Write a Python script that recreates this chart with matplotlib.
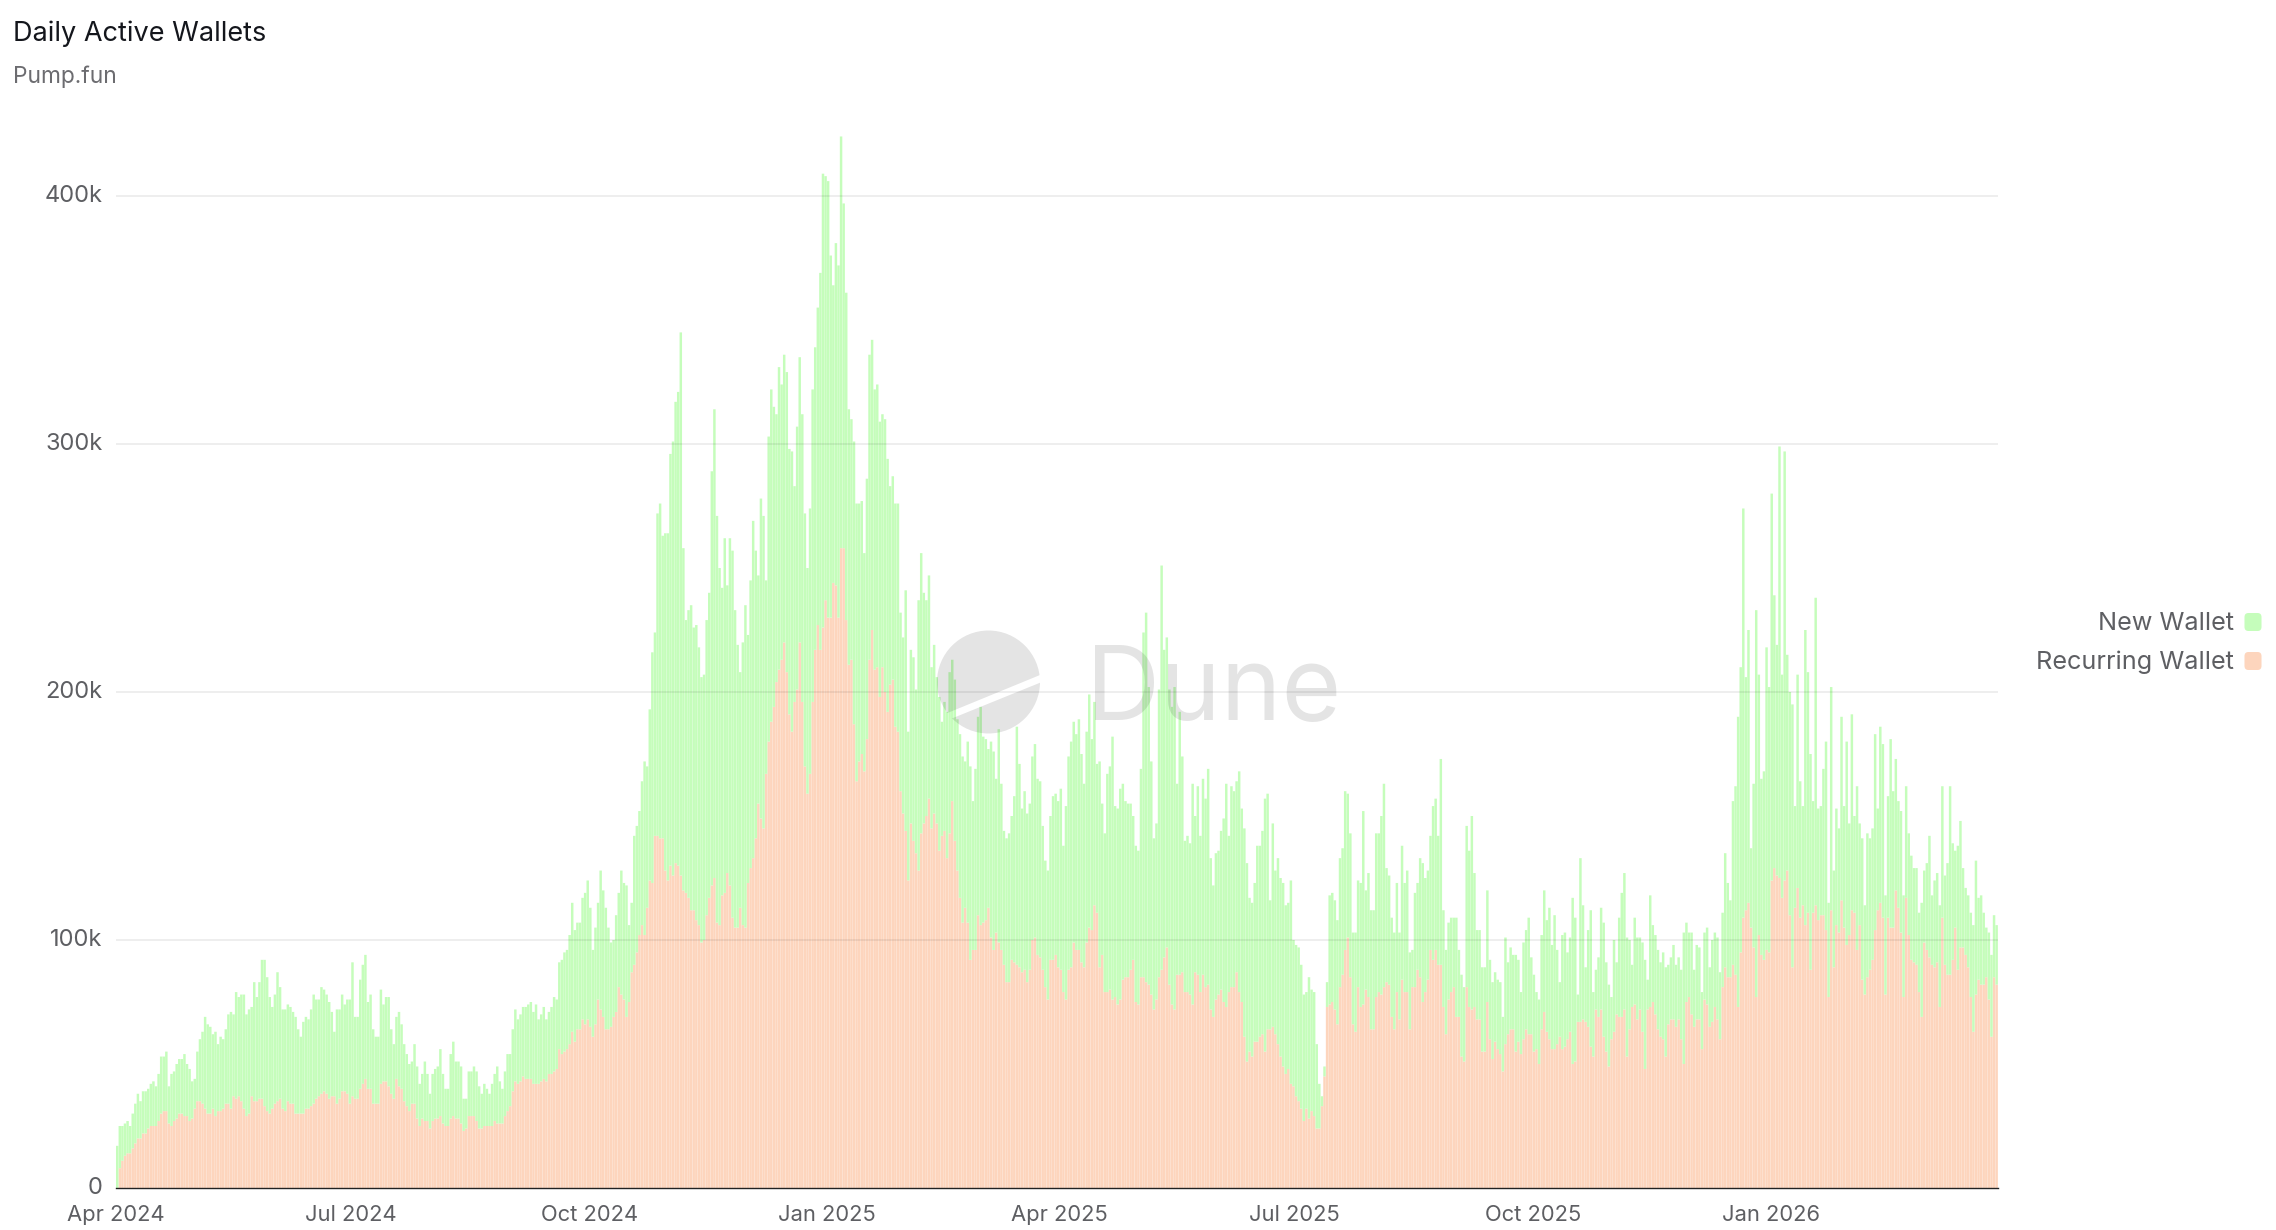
"""
Daily Active Wallets on Pump.fun, stacked daily bars (thousands of wallets).
"""
import numpy as np
import pandas as pd
import matplotlib
matplotlib.use("Agg")
import matplotlib.pyplot as plt
from matplotlib.patches import Circle, FancyBboxPatch, Polygon
from matplotlib.transforms import ScaledTranslation

plt.rcParams['font.family'] = ['Inter', 'DejaVu Sans']

start_date = "2024-04-01"
tick_dates = ["2024-04-01", "2024-07-01", "2024-10-01", "2025-01-01",
              "2025-04-01", "2025-07-01", "2025-10-01", "2026-01-01"]
tick_labels = ["Apr 2024", "Jul 2024", "Oct 2024", "Jan 2025",
               "Apr 2025", "Jul 2025", "Oct 2025", "Jan 2026"]
y_ticks = [0, 100, 200, 300, 400]
y_labels = ["0", "100k", "200k", "300k", "400k"]
series_names = ["New Wallet", "Recurring Wallet"]

# Top of each stacked bar, in thousands
total_2024a = [
    17, 25, 25, 26, 27, 25, 30, 34, 38, 35,
    39, 39, 40, 42, 43, 41, 46, 53, 53, 55,
    41, 46, 47, 50, 52, 52, 54, 50, 48, 43,
    44, 55, 60, 63, 69, 66, 65, 62, 63, 58, 61,
    60, 64, 70, 71, 70, 79, 77, 78, 78, 70,
    72, 73, 83, 77, 83, 92, 92, 85, 77, 73,
    78, 87, 81, 72, 72, 74, 73, 71, 69, 64,
    61, 67, 69, 68, 72, 78, 76, 76, 81, 80, 78,
    75, 71, 63, 72, 72, 78, 74, 76, 76, 91,
    69, 69, 84, 90, 94, 75, 78, 64, 61, 61,
    80, 74, 77, 77, 64, 58, 69, 71, 66, 58, 54,
    50, 51, 58, 49, 42, 46, 51, 46, 38, 46,
    48, 49, 56, 46, 40, 40, 54, 59, 51, 51,
    49, 36, 36, 47, 47, 49, 47, 41, 38, 42, 40,
    38, 42, 46, 49, 43, 40, 47, 54, 54, 64,
    72, 68, 70, 73, 73, 74, 75, 71, 74, 68, 70,
    73, 68, 71, 73, 77, 76, 91, 92, 95, 96,
    102, 115, 104, 107]
total_2024b = [
    107, 117, 119, 124, 113, 96, 105, 115, 128, 120,
    113, 105, 99, 100, 110, 119, 128, 123, 122, 106,
    115, 142, 146, 152, 164, 172, 170, 193, 216, 224,
    272, 276, 263, 264, 264, 296, 301, 317, 321, 345,
    258, 229, 233, 235, 226, 227, 218, 206, 207, 229,
    240, 289, 314, 271, 250, 242, 262, 243, 262, 257,
    233, 219, 208, 220, 235, 223, 245, 269, 257, 247,
    278, 271, 245, 303, 322, 315, 312, 331, 324, 336,
    329, 298, 297, 283, 307, 335, 312, 272, 250, 274,
    322, 339, 355]
total_2025a = [
    369, 409, 408, 406, 376, 364, 381, 372, 424, 397,
    361, 314, 310, 301, 276, 276, 277, 256, 286, 336,
    342, 322, 324, 309, 312, 310, 294, 283, 287, 276,
    276, 232, 222, 241, 184, 217, 214, 201, 237, 256, 240,
    237, 247, 210, 219, 206, 198, 188, 196, 192, 208,
    213, 205, 189, 183, 174, 172, 180, 170, 156, 169,
    190, 194, 182, 181, 177, 180, 176, 165, 185, 163,
    144, 141, 143, 150, 158, 186, 171, 153, 160, 151, 155,
    174, 179, 165, 164, 146, 132, 128, 150, 158, 159,
    156, 161, 138, 154, 174, 180, 188, 183, 189, 175,
    163, 184, 199, 181, 196, 171, 172, 155, 143, 167, 170,
    182, 154, 153, 161, 163, 156, 155, 155, 150, 138,
    136, 169, 224, 232, 202, 172, 141, 147, 201, 251,
    217, 222, 201, 194, 202, 163, 192, 174, 140, 142,
    139, 163, 150]
total_2025b = [
    162, 142, 165, 157, 169, 133, 122, 135, 136, 144,
    149, 163, 142, 162, 160, 164, 168, 153, 145, 131,
    117, 115, 123, 138, 138, 144, 157, 159, 116, 147, 128,
    133, 125, 123, 114, 115, 124, 100, 98, 97, 90,
    78, 79, 85, 80, 79, 58, 42, 37, 49, 83,
    118, 119, 116, 108, 133, 137, 160, 159, 143, 103,
    103, 124, 123, 152, 120, 127, 112, 112, 143, 143, 150,
    163, 129, 126, 109, 103, 123, 103, 138, 123, 128,
    95, 96, 119, 123, 133, 131, 125, 128, 142, 154,
    157, 142, 173, 112, 96, 107, 109, 109, 109, 96,
    86, 81, 146, 136, 150, 127, 104]
total_2025c = [
    104, 89, 89, 120, 92, 83, 87, 84, 83, 69,
    101, 91, 97, 94, 94, 92, 79, 99, 104, 109,
    93, 86, 79, 76, 102, 120, 108, 113, 98, 110, 96,
    83, 102, 103, 95, 101, 117, 109, 78, 133, 114,
    89, 104, 112, 79, 88, 93, 113, 107, 91, 82,
    77, 100, 91, 109, 119, 127, 101, 100, 90, 109,
    101, 101, 99, 92, 84, 118, 106, 102, 96, 91, 95,
    89, 90, 93, 98, 90, 93, 88, 103, 107, 103,
    103, 88, 98, 97, 79, 103, 105, 89, 100, 103,
    101, 87, 111, 135, 123, 116, 156, 162, 190]
total_2026 = [
    210, 274, 206, 225, 137, 163, 233, 207, 165, 168,
    218, 202, 280, 239, 219, 299, 207, 297, 215, 200,
    195, 154, 207, 164, 154, 225, 208, 175, 156, 238,
    153, 154, 169, 180, 115, 202, 128, 153, 145, 190,
    154, 180, 147, 191, 150, 162, 147, 141, 114, 143, 141,
    145, 183, 153, 186, 179, 118, 158, 181, 160, 173,
    156, 152, 118, 162, 143, 134, 129, 129, 111, 115,
    128, 131, 142, 118, 124, 127, 114, 162, 126, 131,
    162, 139, 136, 138, 148, 129, 121, 118, 111, 106,
    132, 117, 118, 111, 105, 103, 94, 110, 106]

# Height of the recurring part, same days as above, in thousands
recurring_2024a = [
    0, 8, 11, 13, 14, 14, 16, 18, 20, 20,
    22, 22, 24, 25, 25, 25, 27, 30, 31, 31,
    26, 25, 27, 28, 30, 30, 29, 29, 27, 28,
    32, 35, 35, 34, 32, 30, 30, 32, 29, 31, 31,
    32, 34, 34, 32, 37, 36, 37, 35, 32, 29,
    30, 37, 35, 35, 36, 36, 33, 31, 30, 32,
    34, 35, 36, 32, 31, 35, 34, 34, 30, 30,
    30, 30, 32, 32, 33, 34, 36, 37, 38, 39, 38,
    36, 37, 37, 34, 36, 39, 39, 38, 34, 37,
    36, 36, 40, 42, 44, 40, 40, 34, 34, 34,
    42, 43, 43, 41, 38, 36, 44, 41, 40, 35, 33,
    31, 34, 34, 28, 25, 28, 27, 27, 24, 27,
    28, 28, 29, 26, 25, 25, 28, 29, 28, 28,
    26, 23, 24, 29, 29, 29, 27, 24, 24, 25, 25,
    25, 25, 27, 26, 26, 26, 29, 31, 33, 39,
    43, 42, 43, 45, 44, 44, 44, 42, 42, 42, 43,
    44, 43, 46, 46, 47, 48, 56, 54, 55, 56,
    58, 63, 59, 64]
recurring_2024b = [
    64, 68, 66, 68, 65, 61, 66, 76, 72, 69,
    64, 64, 65, 69, 71, 81, 78, 76, 69, 75,
    87, 90, 95, 102, 106, 102, 113, 124, 123, 142,
    142, 141, 141, 128, 124, 130, 126, 131, 130, 126,
    120, 119, 117, 112, 112, 108, 106, 99, 100, 110,
    117, 122, 125, 107, 106, 118, 119, 127, 122, 109,
    105, 105, 113, 106, 105, 123, 129, 133, 141, 155,
    149, 145, 167, 180, 188, 194, 204, 209, 213, 220,
    208, 191, 184, 196, 201, 220, 196, 170, 159, 167,
    196, 217, 227]
recurring_2025a = [
    217, 226, 237, 230, 230, 244, 243, 230, 258, 258,
    229, 211, 213, 187, 164, 172, 175, 168, 181, 213,
    225, 209, 210, 198, 210, 200, 192, 203, 205, 186,
    184, 160, 151, 144, 124, 147, 140, 135, 128, 143, 147,
    150, 157, 145, 151, 147, 136, 142, 144, 133, 143,
    156, 140, 128, 117, 107, 113, 107, 92, 96, 96,
    110, 106, 107, 108, 113, 101, 96, 103, 99, 96,
    90, 83, 83, 92, 91, 90, 89, 87, 88, 83, 88,
    100, 101, 94, 93, 88, 81, 76, 92, 92, 94,
    89, 88, 79, 76, 88, 89, 99, 96, 96, 91,
    89, 99, 105, 104, 114, 111, 89, 94, 79, 79, 80,
    76, 77, 74, 76, 84, 85, 85, 88, 92, 75,
    74, 85, 85, 83, 82, 78, 72, 76, 85, 88,
    93, 97, 82, 74, 72, 86, 86, 87, 79, 79,
    78, 74, 87]
recurring_2025b = [
    86, 79, 86, 81, 82, 72, 69, 76, 78, 80,
    75, 73, 79, 81, 81, 87, 79, 75, 61, 51,
    55, 53, 59, 59, 61, 62, 55, 64, 64, 65, 62,
    58, 53, 49, 46, 48, 42, 41, 37, 35, 32,
    27, 32, 28, 31, 29, 24, 24, 33, 45, 73,
    74, 75, 72, 66, 81, 86, 96, 101, 85, 66,
    63, 81, 73, 74, 80, 77, 64, 64, 77, 79, 78,
    81, 83, 82, 69, 64, 79, 68, 84, 79, 79,
    64, 81, 81, 88, 85, 75, 79, 84, 96, 92,
    96, 90, 90, 73, 62, 76, 79, 81, 69, 69,
    53, 51, 81, 73, 72, 73, 68]
recurring_2025c = [
    68, 55, 55, 75, 60, 52, 59, 56, 54, 47,
    58, 62, 64, 64, 55, 59, 54, 60, 64, 62,
    62, 55, 56, 50, 64, 71, 63, 60, 56, 56, 58,
    61, 56, 57, 60, 63, 50, 51, 67, 67, 68,
    67, 65, 57, 53, 72, 69, 72, 61, 55, 49,
    60, 63, 70, 69, 69, 72, 53, 64, 73, 74,
    68, 72, 63, 48, 72, 73, 75, 70, 64, 61, 60,
    53, 66, 68, 68, 65, 68, 60, 50, 75, 77,
    70, 65, 68, 68, 56, 76, 74, 65, 67, 73,
    68, 60, 81, 89, 85, 85, 90, 86, 73]
recurring_2026 = [
    95, 109, 112, 115, 105, 97, 77, 102, 94, 92,
    96, 95, 124, 129, 126, 125, 117, 124, 128, 110,
    89, 113, 121, 109, 114, 106, 111, 88, 111, 114,
    108, 110, 110, 104, 77, 112, 89, 106, 103, 116,
    105, 98, 102, 112, 111, 96, 106, 84, 78, 85, 88,
    92, 104, 112, 115, 109, 78, 109, 105, 105, 120,
    113, 103, 77, 117, 102, 92, 91, 90, 79, 69,
    99, 96, 93, 90, 89, 91, 73, 109, 90, 86,
    86, 92, 105, 88, 97, 97, 94, 89, 77, 63,
    78, 84, 82, 82, 85, 76, 61, 85, 82]

total = np.array(total_2024a + total_2024b + total_2025a + total_2025b
                 + total_2025c + total_2026)
recurring = np.array(recurring_2024a + recurring_2024b + recurring_2025a
                     + recurring_2025b + recurring_2025c + recurring_2026)
new_wallet = total - recurring
days = pd.date_range(start_date, periods=len(total), freq="D")

GREEN = "#c5fdbb"
PEACH = "#fdd5bd"
TEXT = "#5e5f63"

W, H = 2276, 1230
fig = plt.figure(figsize=(W / 100, H / 100), dpi=100)
ax_top = 1188 - 430 * 2.48
ax = fig.add_axes([116 / W, 1 - 1188 / H, (1998 - 116) / W, (1188 - ax_top) / H])

# snap=False keeps the gaps between bars soft instead of whole pixels
ax.bar(days, recurring, width=0.95, align="edge", color=PEACH, linewidth=0, zorder=2, snap=False)
ax.bar(days, new_wallet, width=0.95, bottom=recurring, align="edge", color=GREEN,
       linewidth=0, zorder=2, snap=False)

ax.set_xlim(pd.Timestamp(start_date), days[-1] + pd.Timedelta(days=1))
ax.set_ylim(0, 430)
ax.set_xticks(pd.to_datetime(tick_dates))
ax.set_xticklabels(tick_labels)
ax.set_yticks(y_ticks)
ax.set_yticklabels(y_labels)
ax.tick_params(axis="x", length=0, pad=12, labelsize=15.8, labelcolor=TEXT)
ax.tick_params(axis="y", length=0, pad=9.5, labelsize=17, labelcolor=TEXT)
nudge_up = ScaledTranslation(0, 2 / 100, fig.dpi_scale_trans)
for label in ax.get_yticklabels():
    label.set_transform(label.get_transform() + nudge_up)
for y in y_ticks[1:]:
    ax.axhline(y, color="black", alpha=0.075, linewidth=1.3, zorder=3)
for side in ["top", "left", "right"]:
    ax.spines[side].set_visible(False)
ax.spines["bottom"].set_color("#222222")
ax.spines["bottom"].set_linewidth(1.0)
ax.spines["bottom"].set_zorder(4)

# Pixel-space overlay for title, watermark and legend
over = fig.add_axes([0, 0, 1, 1], facecolor="none")
over.set_xlim(0, W)
over.set_ylim(H, 0)
over.axis("off")

over.text(13, 34, "Daily Active Wallets", fontsize=19.5, color="#14161c", va="center")
over.text(13, 77, "Pump.fun", fontsize=16.4, color="#6c6c70", va="center")

# Dune mark: a disc cut in two by a slanted stripe
upper = Polygon([(900, 732.5), (1080, 658.6), (1080, 560), (900, 560)], transform=over.transData)
lower = Polygon([(900, 739.5), (1080, 666.5), (1080, 800), (900, 800)], transform=over.transData)
for clip in [upper, lower]:
    disc = Circle((988.5, 682), 51.5, facecolor="black", alpha=0.105, linewidth=0, zorder=5)
    over.add_patch(disc)
    disc.set_clip_path(clip)
over.text(1086, 720, "Dune", fontsize=74, color="black", alpha=0.105, va="baseline", zorder=5)

# Legend
for name, color, y in zip(series_names, [GREEN, PEACH], [622, 661]):
    over.text(2234, y + 1.5, name, fontsize=18.2, color=TEXT, ha="right", va="center")
    over.add_patch(FancyBboxPatch((2246.5, y - 7), 13, 14, boxstyle="round,pad=2,rounding_size=4",
                                  facecolor=color, linewidth=0))

fig.savefig("out.png", dpi=100)
